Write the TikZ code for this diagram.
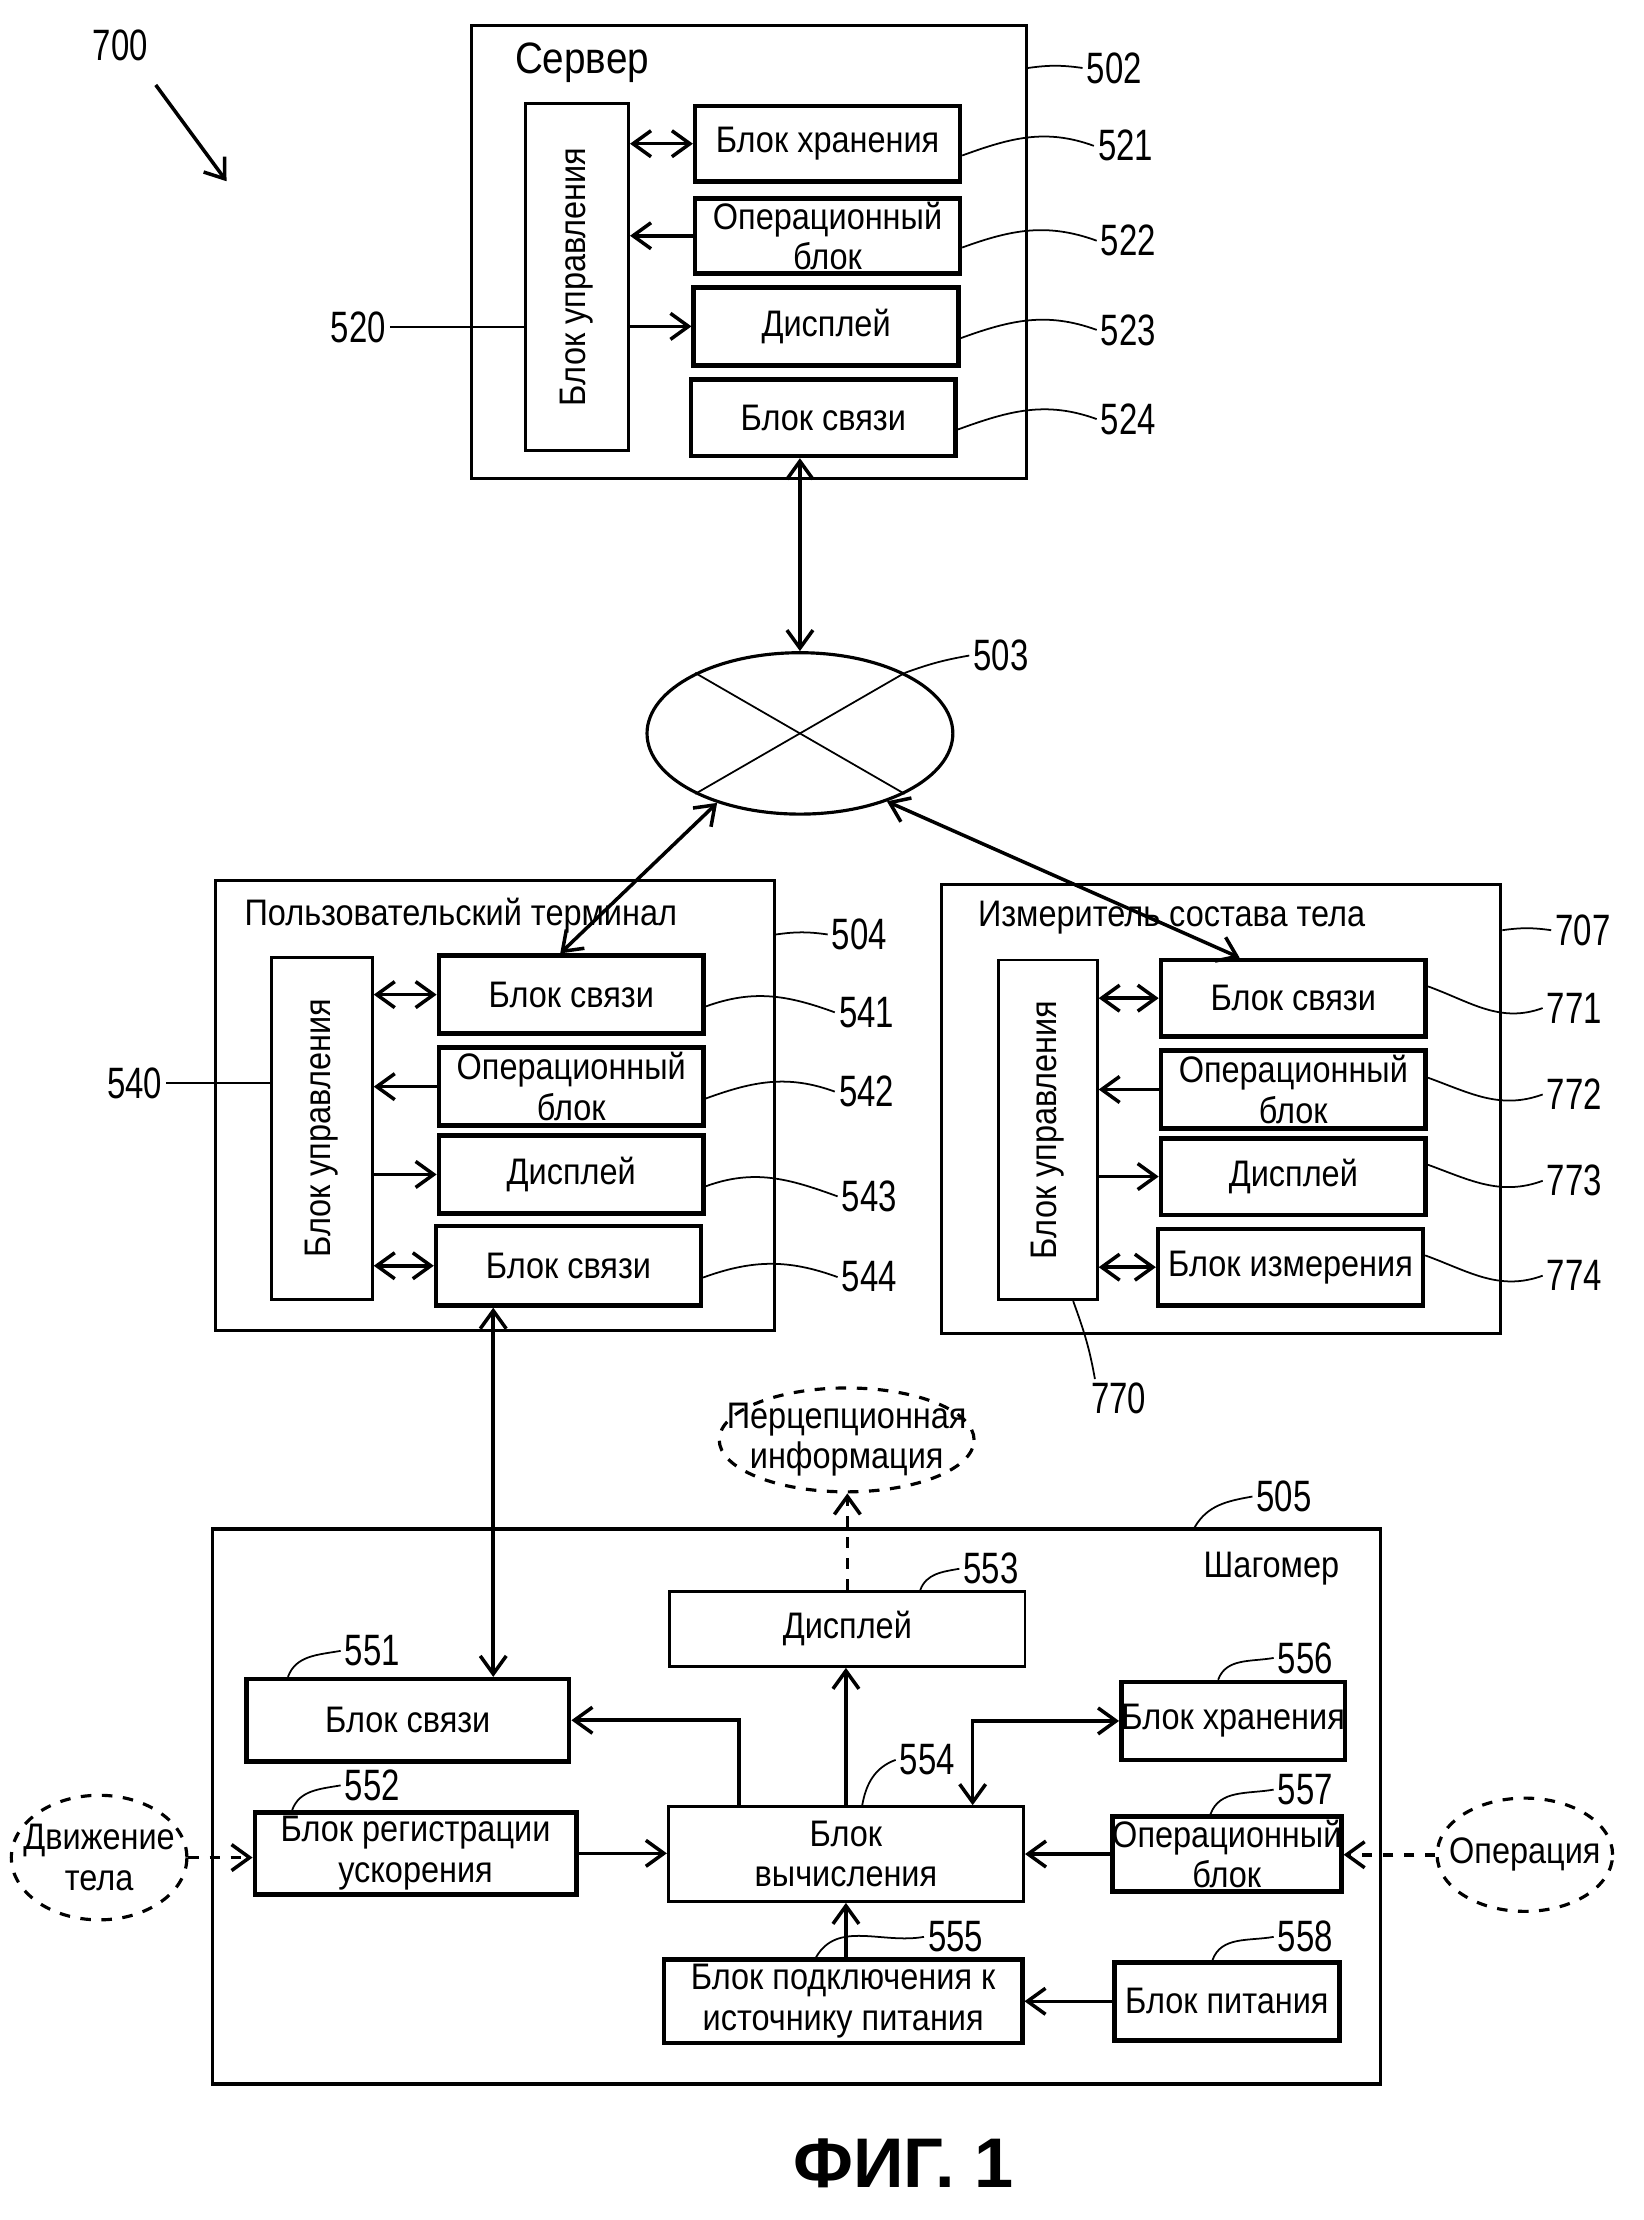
\documentclass[tikz,border=0pt]{standalone}
\usepackage{fontspec}
\setmainfont{Liberation Sans}[FakeStretch=0.88]
\newfontfamily\numfont{Liberation Sans}[FakeStretch=0.75]
\newfontfamily\figfont{Liberation Sans}
\usetikzlibrary{arrows.meta,shapes.geometric}

\newcommand{\upx}{0.01416cm}
\newcommand{\boxfont}{\fontsize{10.5}{11.5}\selectfont}
\newcommand{\lblfont}{\numfont\fontsize{12.5}{13}\selectfont}
\newcommand{\zw}[1]{\makebox[0pt]{#1}}

\begin{document}
\begin{tikzpicture}[x=0.01416cm, y=-0.01416cm,
    >={Straight Barb[length=1.8mm,width=2.6mm]},
    blk/.style={draw, line width=1.3pt, inner sep=0pt, align=center, font=\boxfont},
    thinblk/.style={blk, line width=0.8pt},
    grp/.style={draw, line width=0.9pt, inner sep=0pt},
    sz/.style 2 args={minimum width=#1*\upx, minimum height=#2*\upx},
    num/.style={font=\lblfont, inner sep=1pt},
    lead/.style={line width=0.5pt},
    con/.style={line width=1pt},
    bubble/.style={draw, dashed, ellipse, line width=0.9pt, inner sep=0pt, align=center, font=\boxfont}]
    \useasboundingbox (0,0) rectangle (1161,1568);

    % Nodes {server 502}
    \node [grp, sz={392}{320}]      (srv)  at (529,178)     {};
    \node [anchor=west, font=\fontsize{12.5}{14}\selectfont] (srvT) at (355,44) {Сервер};
    \node [thinblk, sz={73}{245}]   (c520) at (407.5,195.5) {\rotatebox{90}{Блок управления}};
    \node [blk, sz={187}{53}]       (s521) at (584.5,101.5) {Блок хранения};
    \node [blk, sz={187}{53}]       (s522) at (584.5,166.5) {Операционный\\блок};
    \node [blk, sz={187}{55}]       (s523) at (583.5,230.5) {Дисплей};
    \node [blk, sz={187}{54}]       (s524) at (581.5,295)   {Блок связи};

    % Nodes {network 503}
    \node [draw, ellipse, line width=0.9pt, inner sep=0pt, sz={216}{114}] (net) at (565,518) {};

    % Nodes {user terminal 504}
    \node [grp, sz={395}{318}]      (ut)   at (349.5,781)   {};
    \node [anchor=west, font=\boxfont] (utT) at (164,647) {Пользовательский терминал};
    \node [thinblk, sz={71}{242}]   (u540) at (227.5,797)   {\rotatebox{90}{Блок управления}};
    \node [blk, sz={187}{55}]       (u541) at (403.5,702.5) {Блок связи};
    \node [blk, sz={187}{55}]       (u542) at (403.5,767.5) {Операционный\\блок};
    \node [blk, sz={187}{55}]       (u543) at (403.5,829.5) {Дисплей};
    \node [blk, sz={187}{56}]       (u544) at (401.5,894)   {Блок связи};

    % Nodes {body composition meter 707}
    \node [grp, sz={395}{317}]      (bc)   at (862.5,783.5) {};
    \node [anchor=west, font=\boxfont] (bcT) at (682,648) {Измеритель состава тела};
    \node [thinblk, sz={70}{240}]   (m770) at (740,798)     {\rotatebox{90}{Блок управления}};
    \node [blk, sz={187}{54}]       (m771) at (913.5,705)   {Блок связи};
    \node [blk, sz={187}{55}]       (m772) at (913.5,769.5) {Операционный\\блок};
    \node [blk, sz={187}{54}]       (m773) at (913.5,831)   {Дисплей};
    \node [blk, sz={187}{54}]       (m774) at (911.5,895)   {Блок измерения};

    % Nodes {pedometer 505}
    \node [grp, line width=1pt, sz={825}{392}] (pd) at (562.5,1276) {};
    \node [font=\boxfont]           (pdT)  at (898,1108)    {Шагомер};
    \node [blk, sz={228}{58}]       (p551) at (288,1215)    {Блок связи};
    \node [blk, sz={227}{58}]       (p552) at (293.5,1309)  {Блок регистрации\\ускорения};
    \node [thinblk, sz={251}{53}]   (p553) at (598.5,1150.5) {Дисплей};
    \node [thinblk, sz={251}{67}]   (p554) at (597.5,1309.5) {Блок\\вычисления};
    \node [blk, sz={253}{59}]       (p555) at (595.5,1413.5) {Блок подключения к\\источнику питания};
    \node [blk, sz={158}{55}]       (p556) at (871,1215.5)  {Блок хранения};
    \node [blk, sz={159}{53}]       (p557) at (866.5,1309.5) {Операционный\\блок};
    \node [blk, sz={159}{55}]       (p558) at (866.5,1413.5) {Блок питания};
    \node [bubble, sz={180}{66}]    (perc) at (598,1017)    {\zw{Перцепционная}\\\zw{информация}};
    \node [bubble, sz={124}{88}]    (mot)  at (70,1312)     {\zw{Движение}\\\zw{тела}};
    \node [bubble, sz={124}{80}]    (oper) at (1077,1310)   {\zw{Операция}};

    % Reference numerals
    \node [num] (l700) at (85,32)    {700};
    \node [num] (l502) at (787,48)   {502};
    \node [num] (l521) at (795,103)  {521};
    \node [num] (l522) at (797,170)  {522};
    \node [num] (l523) at (797,233)  {523};
    \node [num] (l524) at (797,296)  {524};
    \node [num] (l520) at (253,231)  {520};
    \node [num] (l503) at (707,463)  {503};
    \node [num] (l504) at (607,660)  {504};
    \node [num] (l541) at (612,715)  {541};
    \node [num] (l542) at (612,771)  {542};
    \node [num] (l543) at (614,845)  {543};
    \node [num] (l544) at (614,902)  {544};
    \node [num] (l540) at (95,765)   {540};
    \node [num] (l707) at (1118,657) {707};
    \node [num] (l771) at (1112,712) {771};
    \node [num] (l772) at (1112,773) {772};
    \node [num] (l773) at (1112,834) {773};
    \node [num] (l774) at (1112,901) {774};
    \node [num] (l770) at (790,988)  {770};
    \node [num] (l505) at (907,1057) {505};
    \node [num] (l551) at (263,1166) {551};
    \node [num] (l552) at (263,1261) {552};
    \node [num] (l553) at (700,1108) {553};
    \node [num] (l554) at (655,1243) {554};
    \node [num] (l555) at (675,1368) {555};
    \node [num] (l556) at (922,1171) {556};
    \node [num] (l557) at (922,1264) {557};
    \node [num] (l558) at (922,1368) {558};
    \node [font=\figfont\bfseries\fontsize{20}{24}\selectfont] (fig) at (638,1528) {ФИГ. 1};

    % Paths {server}
    \path [con, <->] (s521.west) edge (s521.west -| c520.east);
    \path [con, <-]  (s522.west -| c520.east) edge (s522.west);
    \path [con, ->]  (s523.west -| c520.east) edge (s523.west);
    \path [con, <->] (net.north) edge (net.north |- s524.south);

    % Paths {network}
    \draw [lead] (net.150) -- (net.-30);
    \draw [lead] (net.30) -- (net.210);
    \path [con, <->] (net.220) edge (u541.105);
    \path [con, <->] (net.322) edge (m771.143);

    % Paths {user terminal}
    \path [con, <->] (u541.west) edge (u541.west -| u540.east);
    \path [con, <-]  (u542.west -| u540.east) edge (u542.west);
    \path [con, ->]  (u543.west -| u540.east) edge (u543.west);
    \path [con, <->] (u544.west) edge (u544.west -| u540.east);
    \coordinate (t544) at ([xshift=42*\upx]u544.south west);
    \path [con, <->] (t544) edge (t544 |- p551.north);

    % Paths {body composition meter}
    \path [con, <->] (m771.west) edge (m771.west -| m770.east);
    \path [con, <-]  (m772.west -| m770.east) edge (m772.west);
    \path [con, ->]  (m773.west -| m770.east) edge (m773.west);
    \path [con, <->] (m774.west) edge (m774.west -| m770.east);

    % Paths {pedometer}
    \draw [con, ->] ([xshift=51*\upx]p554.north west) |- (p551.east);
    \path [con, ->] (p554.north) edge (p554.north |- p553.south);
    \path [con, dashed, ->] (p553.north) edge (p553.north |- perc.south);
    \path [con, ->] (p552.east) edge (p552.east -| p554.west);
    \path [con, dashed, ->] (mot.east) edge (mot.east -| p552.west);
    \path [con, ->] (p557.west) edge (p557.west -| p554.east);
    \path [con, dashed, ->] (oper.west) edge (oper.west -| p557.east);
    \path [con, ->] (p554.south |- p555.north) edge (p554.south);
    \path [con, ->] (p558.west) edge (p558.west -| p555.east);
    \draw [con, <->] (p556.west) -| ([xshift=-37*\upx]p554.north east);

    % Leaders
    \coordinate (a700) at (110,60);
    \coordinate (b700) at (160,128);
    \draw [con, ->] (a700) -- (b700);
    \draw [lead] (srv.east |- l502) to[bend left=8] (l502.west);
    \draw [lead] (s521.-5) to[out=20,in=160] (l521.west);
    \draw [lead] (s522.-5) to[out=20,in=160] (l522.west);
    \draw [lead] (s523.-5) to[out=20,in=160] (l523.west);
    \draw [lead] (s524.-5) to[out=20,in=160] (l524.west);
    \draw [lead] (l520.east) -- (l520.east -| c520.west);
    \draw [lead] (net.30) to[out=20,in=190] (l503.west);
    \draw [lead] (ut.east |- l504) to[bend left=8] (l504.west);
    \draw [lead] (u541.-5) to[out=20,in=160] (l541.west);
    \draw [lead] (u542.-5) to[out=20,in=160] (l542.west);
    \draw [lead] (u543.-5) to[out=20,in=160] (l543.west);
    \draw [lead] (u544.-5) to[out=20,in=160] (l544.west);
    \draw [lead] (l540.east) -- (l540.east -| u540.west);
    \draw [lead] (bc.east |- l707) to[bend left=8] (l707.west);
    \draw [lead] (m771.5) to[out=-20,in=200] (l771.west);
    \draw [lead] (m772.5) to[out=-20,in=200] (l772.west);
    \draw [lead] (m773.5) to[out=-20,in=200] (l773.west);
    \draw [lead] (m774.5) to[out=-20,in=200] (l774.west);
    \draw [lead] ([xshift=54*\upx]m770.south west) to[out=-70,in=100] (l770.140);
    \draw [lead] ([xshift=695*\upx]pd.north west) to[out=60,in=190] (l505.west);
    \draw [lead] ([xshift=31*\upx]p551.north west) to[out=70,in=190] (l551.west);
    \draw [lead] ([xshift=28*\upx]p552.north west) to[out=70,in=190] (l552.west);
    \draw [lead] ([xshift=178*\upx]p553.north west) to[out=70,in=190] (l553.west);
    \draw [lead] ([xshift=138*\upx]p554.north west) to[out=80,in=200] (l554.west);
    \draw [lead] ([xshift=109*\upx]p555.north west) to[out=60,in=190] (l555.west);
    \draw [lead] ([xshift=70*\upx]p556.north west) to[out=70,in=190] (l556.west);
    \draw [lead] ([xshift=71*\upx]p557.north west) to[out=70,in=190] (l557.west);
    \draw [lead] ([xshift=71*\upx]p558.north west) to[out=70,in=190] (l558.west);
\end{tikzpicture}
\end{document}
